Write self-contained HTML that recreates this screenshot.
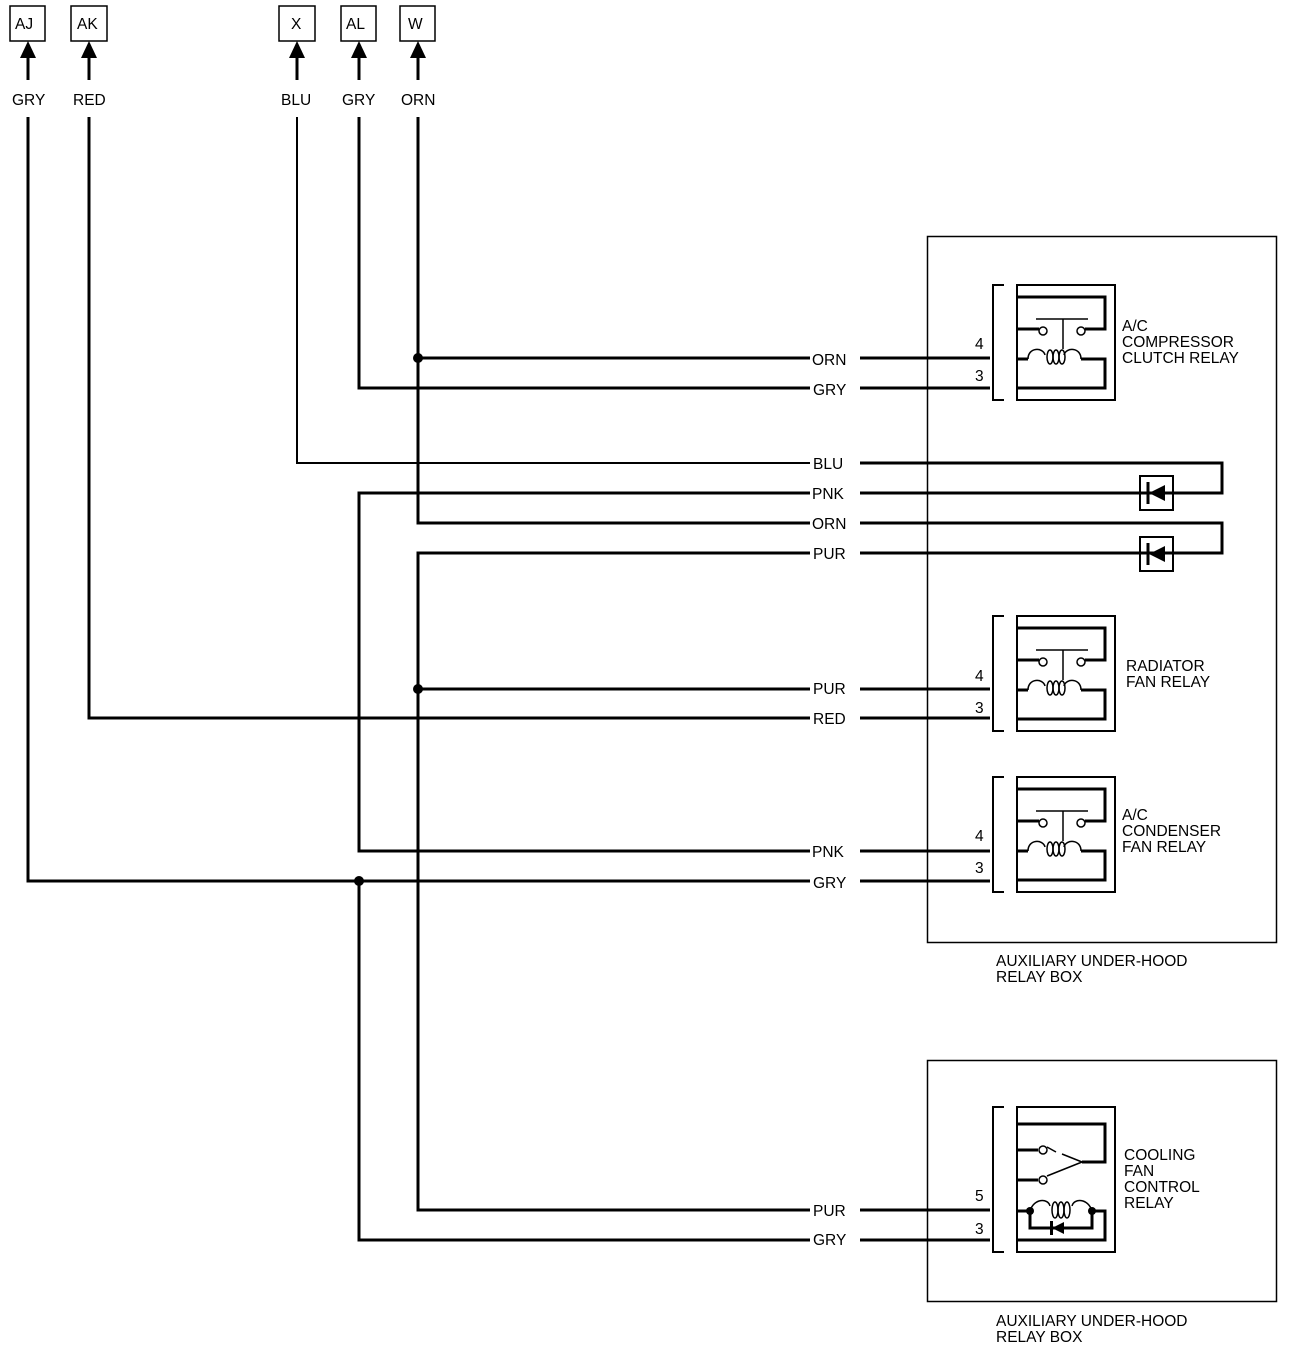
<!DOCTYPE html>
<html><head><style>body{margin:0;background:#fff}svg{display:block}text{font-family:"Liberation Sans",sans-serif;font-size:15.5px;fill:#000}</style></head><body>
<svg width="1312" height="1348" viewBox="0 0 1312 1348" xmlns="http://www.w3.org/2000/svg">
<g fill="none" stroke="#000" stroke-width="1.5">
<rect x="10" y="6" width="35" height="35"/><rect x="71" y="6" width="36" height="35"/>
<rect x="279" y="6" width="36" height="35"/><rect x="341" y="6" width="35" height="35"/><rect x="400" y="6" width="35" height="35"/>
<rect x="927.5" y="236.5" width="349" height="706"/>
<rect x="927.5" y="1060.5" width="349" height="241"/>
</g>
<g fill="#000">
<polygon points="28,41 20,58 36,58"/><polygon points="89,41 81,58 97,58"/><polygon points="297,41 289,58 305,58"/><polygon points="359,41 351,58 367,58"/><polygon points="418,41 410,58 426,58"/>
</g>
<text x="15" y="29">AJ</text><text x="77" y="29">AK</text><text x="291" y="29">X</text><text x="346" y="29">AL</text><text x="408" y="29">W</text>
<text x="12" y="105">GRY</text><text x="73" y="105">RED</text><text x="281" y="105">BLU</text><text x="342" y="105">GRY</text><text x="401" y="105">ORN</text>
<g fill="none" stroke="#000" stroke-width="3">
<path d="M28 56V80M89 56V80M297 56V80M359 56V80M418 56V80"/>
<path d="M28 117V881H810"/>
<path d="M89 117V718H810"/>
<path d="M297 117V463H810" stroke-width="2"/>
<path d="M359 117V388H810"/>
<path d="M418 117V523H810"/>
<path d="M418 358H810"/>
<path d="M810 493H359V851H810"/>
<path d="M810 553H418V1210H810"/>
<path d="M418 689H810"/>
<path d="M359 881V1240H810"/>
<path d="M860 358H990M860 388H990M860 689H990M860 718H990M860 851H990M860 881H990M860 1210H990M860 1240H990"/>
<path d="M860 463H1222V493H860"/>
<path d="M860 523H1222V553H860"/>
</g>
<g fill="#000"><circle cx="418" cy="358" r="5"/><circle cx="418" cy="689" r="5"/><circle cx="359" cy="881" r="5"/></g>
<g>
<text x="812" y="365">ORN</text><text x="813" y="395">GRY</text><text x="813" y="469">BLU</text><text x="812" y="499">PNK</text><text x="812" y="529">ORN</text><text x="813" y="559">PUR</text>
<text x="813" y="694">PUR</text><text x="813" y="724">RED</text><text x="812" y="857">PNK</text><text x="813" y="888">GRY</text><text x="813" y="1216">PUR</text><text x="813" y="1245">GRY</text>
</g>
<g stroke="#000" fill="none"><rect x="1140" y="476" width="33" height="34" stroke-width="2"/><rect x="1140" y="537" width="33" height="34" stroke-width="2"/>
<path d="M1148 482V504M1148 543V565" stroke-width="3"/></g>
<g fill="#000"><polygon points="1149,493 1165,485 1165,501"/><polygon points="1149,554 1165,546 1165,562"/></g>
<defs>
<g id="relay">
<path d="M11 0H0V115H11" fill="none" stroke="#000" stroke-width="2"/>
<rect x="24" y="0" width="98" height="115" fill="none" stroke="#000" stroke-width="2"/>
<g fill="none" stroke="#000" stroke-width="3">
<path d="M24 12H112V44H92"/>
<path d="M24 44H46"/>
<path d="M24 74H35M88 74H112V103H24"/>
</g>
<g fill="none" stroke="#000" stroke-width="1.5">
<path d="M43 34H95M70 34V64"/>
<circle cx="50" cy="46" r="4"/><circle cx="88" cy="46" r="4"/>
<path d="M35 74C35 62 50 62 52 70M88 74C88 62 73 62 71 70"/>
<ellipse cx="57" cy="72" rx="3" ry="7"/><ellipse cx="63" cy="72" rx="3" ry="7"/><ellipse cx="69" cy="72" rx="3" ry="7"/>
</g>
</g>
</defs>
<use href="#relay" x="993" y="285"/>
<use href="#relay" x="993" y="616"/>
<use href="#relay" x="993" y="777"/>
<text x="975" y="349">4</text><text x="975" y="381">3</text>
<text x="975" y="681">4</text><text x="975" y="713">3</text>
<text x="975" y="841">4</text><text x="975" y="873">3</text>
<text x="1122" y="331">A/C</text><text x="1122" y="347">COMPRESSOR</text><text x="1122" y="363">CLUTCH RELAY</text>
<text x="1126" y="671">RADIATOR</text><text x="1126" y="687">FAN RELAY</text>
<text x="1122" y="820">A/C</text><text x="1122" y="836">CONDENSER</text><text x="1122" y="852">FAN RELAY</text>
<text x="996" y="966">AUXILIARY UNDER-HOOD</text><text x="996" y="982">RELAY BOX</text>
<text x="996" y="1326">AUXILIARY UNDER-HOOD</text><text x="996" y="1342">RELAY BOX</text>
<g fill="none" stroke="#000" stroke-width="2">
<path d="M1004 1107H993V1252H1004"/><rect x="1017" y="1107" width="98" height="145"/>
</g>
<g fill="none" stroke="#000" stroke-width="3">
<path d="M1017 1124H1105V1162H1082"/>
<path d="M1017 1150H1038M1017 1180H1038"/>
<path d="M1017 1211H1028M1092 1211H1105V1240H1017"/>
<path d="M1030 1211V1228H1092V1211"/>
</g>
<g fill="none" stroke="#000" stroke-width="1.5">
<circle cx="1043" cy="1150" r="4"/><circle cx="1043" cy="1180" r="4"/>
<path d="M1047 1147L1056 1152M1047 1176L1082 1162M1062 1154L1082 1162"/>
<path d="M1030 1211C1034 1198 1048 1198 1050 1206M1092 1211C1088 1198 1074 1198 1072 1206"/>
<ellipse cx="1055" cy="1210" rx="3" ry="8"/><ellipse cx="1061" cy="1210" rx="3" ry="8"/><ellipse cx="1067" cy="1210" rx="3" ry="8"/>
</g>
<g fill="#000"><circle cx="1030" cy="1211" r="4"/><circle cx="1092" cy="1211" r="4"/><polygon points="1052,1228 1064,1222 1064,1234"/><rect x="1050" y="1221" width="3" height="14"/></g>
<text x="975" y="1201">5</text><text x="975" y="1234">3</text>
<text x="1124" y="1160">COOLING</text><text x="1124" y="1176">FAN</text><text x="1124" y="1192">CONTROL</text><text x="1124" y="1208">RELAY</text>
</svg>
</body></html>
